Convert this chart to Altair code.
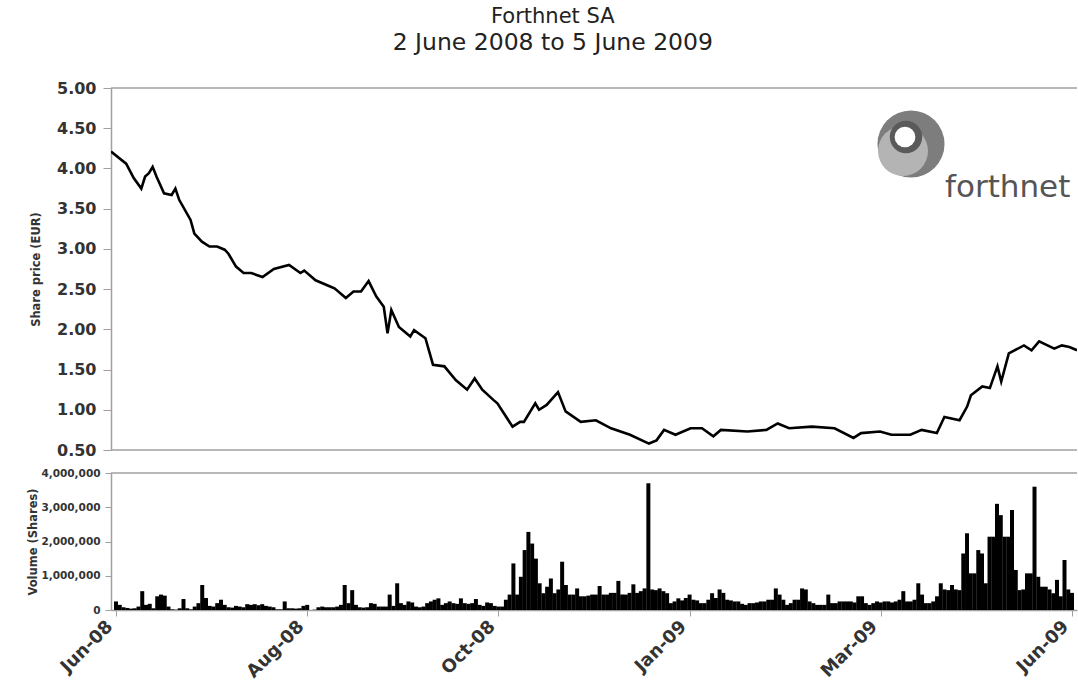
import altair as alt
import pandas as pd

# ---------------- data ----------------
title_line1 = "Forthnet SA"
title_line2 = "2 June 2008 to 5 June 2009"

# trading-day index (0 = 2 Jun 2008, 255 = 5 Jun 2009) and share price (EUR)
price_day = [0, 4, 6, 8, 9, 10, 11, 12, 14, 16, 17, 18, 21, 22, 24, 26, 28, 30, 31, 33,
             35, 37, 40, 43, 47, 50, 51, 54, 58, 59, 62, 64, 66, 68, 70, 72, 73, 74, 76, 79,
             80, 83, 85, 88, 91, 94, 96, 98, 101, 102, 106, 108, 109, 112, 113, 115, 118, 120, 124, 128,
             132, 137, 142, 144, 146, 149, 153, 156, 159, 161, 168, 173, 176, 179, 185, 191, 196, 198, 203, 206,
             211, 214, 218, 220, 224, 226, 227, 230, 232, 234, 235, 237, 241, 243, 245, 249, 251, 253, 255]
price_value = [4.21, 4.06, 3.88, 3.75, 3.90, 3.94, 4.02, 3.90, 3.69, 3.67, 3.75, 3.61, 3.36, 3.19, 3.09, 3.03, 3.03, 2.99, 2.94, 2.78,
               2.70, 2.70, 2.65, 2.75, 2.80, 2.70, 2.73, 2.61, 2.53, 2.51, 2.39, 2.47, 2.47, 2.60, 2.41, 2.28, 1.95, 2.24, 2.03, 1.91,
               1.99, 1.89, 1.56, 1.54, 1.37, 1.25, 1.39, 1.25, 1.12, 1.08, 0.79, 0.85, 0.85, 1.08, 1.00, 1.06, 1.22, 0.98, 0.85, 0.87,
               0.77, 0.69, 0.58, 0.62, 0.75, 0.69, 0.77, 0.77, 0.67, 0.75, 0.73, 0.75, 0.83, 0.77, 0.79, 0.77, 0.65, 0.71, 0.73, 0.69,
               0.69, 0.75, 0.71, 0.91, 0.87, 1.04, 1.18, 1.29, 1.27, 1.54, 1.35, 1.70, 1.80, 1.74, 1.85, 1.76, 1.80, 1.78, 1.74]

# daily volume, millions of shares, one value per trading day 0..255
volume_m = [
    0.25, 0.15, 0.08, 0.06, 0.04, 0.05, 0.10, 0.55, 0.15, 0.18,
    0.05, 0.40, 0.45, 0.42, 0.10, 0.02, 0.01, 0.05, 0.32, 0.05,
    0.02, 0.10, 0.20, 0.73, 0.35, 0.12, 0.10, 0.20, 0.30, 0.15,
    0.08, 0.07, 0.12, 0.10, 0.08, 0.17, 0.15, 0.17, 0.14, 0.17,
    0.12, 0.10, 0.08, 0.02, 0.02, 0.25, 0.05, 0.05, 0.04, 0.05,
    0.12, 0.15, 0.00, 0.01, 0.08, 0.10, 0.08, 0.08, 0.08, 0.10,
    0.15, 0.73, 0.20, 0.58, 0.15, 0.08, 0.07, 0.08, 0.20, 0.18,
    0.10, 0.10, 0.10, 0.45, 0.12, 0.78, 0.20, 0.15, 0.25, 0.22,
    0.10, 0.08, 0.10, 0.20, 0.25, 0.30, 0.34, 0.15, 0.20, 0.25,
    0.20, 0.18, 0.34, 0.20, 0.18, 0.20, 0.32, 0.15, 0.12, 0.22,
    0.20, 0.12, 0.10, 0.10, 0.30, 0.45, 1.36, 0.45, 0.97, 1.75,
    2.28, 1.94, 1.50, 0.78, 0.49, 0.68, 0.92, 0.49, 0.60, 1.41,
    0.73, 0.45, 0.45, 0.63, 0.40, 0.40, 0.42, 0.45, 0.45, 0.70,
    0.45, 0.45, 0.50, 0.50, 0.85, 0.45, 0.45, 0.50, 0.75, 0.50,
    0.55, 0.63, 3.70, 0.60, 0.58, 0.63, 0.55, 0.49, 0.20, 0.25,
    0.34, 0.28, 0.35, 0.45, 0.30, 0.28, 0.20, 0.20, 0.30, 0.49,
    0.35, 0.60, 0.50, 0.30, 0.28, 0.25, 0.25, 0.18, 0.15, 0.20,
    0.20, 0.22, 0.25, 0.25, 0.30, 0.30, 0.63, 0.45, 0.30, 0.15,
    0.20, 0.30, 0.30, 0.63, 0.60, 0.25, 0.20, 0.15, 0.15, 0.15,
    0.45, 0.20, 0.20, 0.25, 0.25, 0.25, 0.25, 0.22, 0.40, 0.40,
    0.20, 0.15, 0.20, 0.25, 0.22, 0.25, 0.25, 0.22, 0.25, 0.30,
    0.55, 0.25, 0.25, 0.30, 0.78, 0.45, 0.20, 0.20, 0.25, 0.40,
    0.78, 0.60, 0.58, 0.73, 0.60, 0.58, 1.65, 2.24, 1.07, 1.07,
    1.75, 1.65, 0.78, 2.14, 2.14, 3.10, 2.77, 2.14, 2.14, 2.92,
    1.17, 0.58, 0.60, 1.07, 1.07, 3.60, 0.97, 0.68, 0.68, 0.60,
    0.49, 0.88, 0.40, 1.46, 0.60, 0.50,
]

tick_days = [0, 51, 102, 153, 204, 255]
tick_labels = ["Jun-08", "Aug-08", "Oct-08", "Jan-09", "Mar-09", "Jun-09"]
price_ticks = [0.5, 1.0, 1.5, 2.0, 2.5, 3.0, 3.5, 4.0, 4.5, 5.0]
volume_ticks = [0, 1000000, 2000000, 3000000, 4000000]

# ---------------- tables ----------------
price_df = pd.DataFrame({"day": price_day, "price": price_value})
vol_df = pd.DataFrame({"day": list(range(len(volume_m))),
                       "volume": [v * 1_000_000 for v in volume_m]})
one = alt.Data(values=[{"k": 0}])

FONT = "DejaVu Sans"
W = 966
GREY = "#a0a0a0"
xscale = alt.Scale(domain=[0, 255], nice=False, zero=False)

label_expr = "[" + ",".join("'%s'" % s for s in tick_labels) + "][indexof([" + \
    ",".join(str(d) for d in tick_days) + "], datum.value)]"

price_axis = alt.Axis(values=price_ticks, format=".2f", title="Share price (EUR)",
                      labelFontSize=16, labelFontWeight="bold", labelColor="#333",
                      titleFontSize=11.5, titleFontWeight="bold", titleColor="#333",
                      tickSize=8, labelPadding=7, titlePadding=15, labelOverlap=False)
price_scale = alt.Scale(domain=[0.5, 5.0], nice=False, zero=False)

# ---------------- top panel: price ----------------
price_line = alt.Chart(price_df).mark_line(color="black", strokeWidth=2.6, clip=True).encode(
    x=alt.X("day:Q", scale=xscale, axis=None),
    y=alt.Y("price:Q", scale=price_scale, axis=price_axis),
)
top_border = alt.Chart(one).mark_rule(color=GREY, strokeWidth=1.5).encode(
    y=alt.datum(5.0, scale=price_scale, axis=price_axis))
bottom_border = alt.Chart(one).mark_rule(color=GREY, strokeWidth=1.5).encode(
    y=alt.datum(0.5, scale=price_scale, axis=price_axis))

logo_outer = alt.Chart(one).mark_circle(color="#7d7d7d", opacity=1).encode(
    x=alt.value(800), y=alt.value(56), size=alt.value(4500))
logo_mid = alt.Chart(one).mark_circle(color="#b4b4b4", opacity=1).encode(
    x=alt.value(792), y=alt.value(63), size=alt.value(2500))
logo_ring = alt.Chart(one).mark_circle(color="#5a5a5a", opacity=1).encode(
    x=alt.value(795), y=alt.value(49), size=alt.value(1050))
logo_inner = alt.Chart(one).mark_circle(color="white", opacity=1).encode(
    x=alt.value(794), y=alt.value(49), size=alt.value(430))
logo_text = alt.Chart(one).mark_text(font=FONT, fontSize=31, color="#555555",
                                     align="left", baseline="alphabetic").encode(
    x=alt.value(834), y=alt.value(109), text=alt.value("forthnet"))

top = alt.layer(price_line, top_border, bottom_border, logo_outer, logo_mid, logo_ring,
                logo_inner, logo_text).properties(width=W, height=362)

# ---------------- bottom panel: volume ----------------
vol_axis = alt.Axis(values=volume_ticks, format=",d", title="Volume (Shares)",
                    labelFontSize=10.5, labelFontWeight="bold", labelColor="#333",
                    titleFontSize=11.5, titleFontWeight="bold", titleColor="#333",
                    tickSize=6, labelPadding=5, titlePadding=2, labelOverlap=False)
vol_scale = alt.Scale(domain=[0, 4000000], nice=False)

vol_bars = alt.Chart(vol_df).mark_bar(color="black", size=4, clip=True).encode(
    x=alt.X("day:Q", scale=xscale,
            axis=alt.Axis(values=tick_days, labelExpr=label_expr, labelAngle=-45,
                          labelAlign="right", labelBaseline="bottom",
                          labelFontSize=18, labelFontWeight="bold", labelColor="#333",
                          tickSize=6, labelPadding=14, title=None,
                          labelOverlap=False, labelBound=False, labelFlush=False)),
    y=alt.Y("volume:Q", scale=vol_scale, axis=vol_axis),
)
vol_border = alt.Chart(one).mark_rule(color=GREY, strokeWidth=1.5).encode(
    y=alt.datum(4000000, scale=vol_scale, axis=vol_axis))

bottom = alt.layer(vol_bars, vol_border).properties(width=W, height=137)

chart = alt.vconcat(top, bottom, spacing=23, bounds="flush").properties(
    title=alt.TitleParams(text=title_line1, subtitle=title_line2, font=FONT, fontSize=21,
                          fontWeight="normal", color="#222",
                          subtitleFont=FONT, subtitleFontSize=23.5, subtitleColor="#222",
                          subtitlePadding=4, anchor="middle", offset=26, dx=0),
    padding={"left": 27, "top": 5, "right": 0, "bottom": 0},
).configure_view(stroke=None).configure_axis(
    labelFont=FONT, titleFont=FONT, domainColor=GREY, tickColor=GREY, grid=False,
    domainWidth=1.5,
)

chart.save("out.html", embed_options={"renderer": "svg", "actions": False})
